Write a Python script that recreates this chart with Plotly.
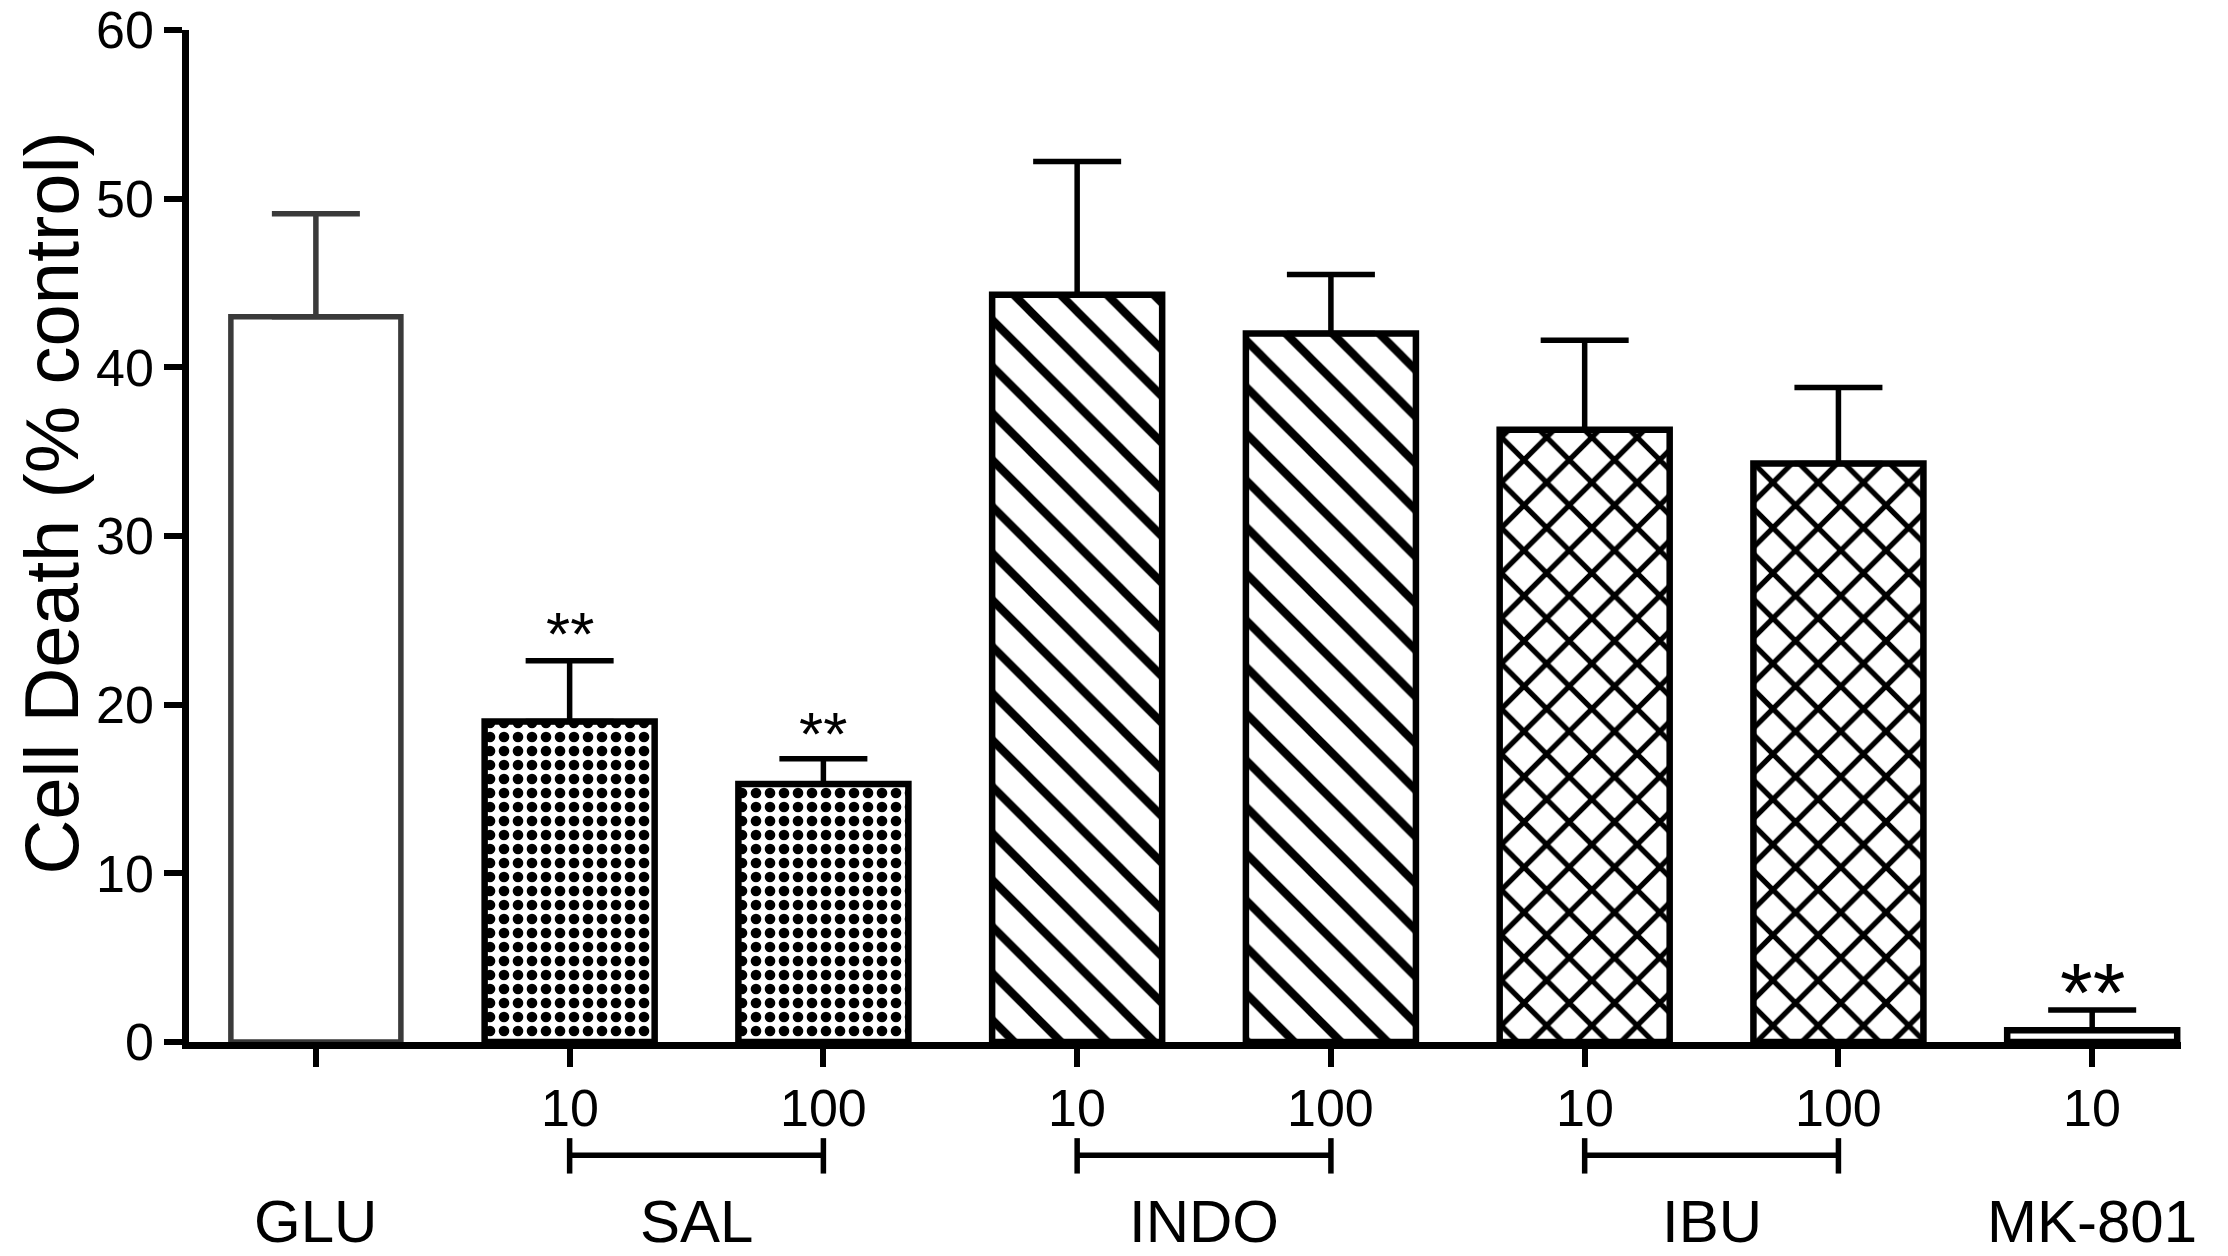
import plotly.graph_objects as go

# bar data
bars = ["GLU", "SAL 10", "SAL 100", "INDO 10", "INDO 100", "IBU 10", "IBU 100", "MK-801 10"]
cell_death = [43.0, 19.0, 15.3, 44.3, 42.0, 36.3, 34.3, 0.7]
sem = [6.1, 3.6, 1.5, 7.9, 3.5, 5.3, 4.5, 1.2]
doses = ["", "10", "100", "10", "100", "10", "100", "10"]
groups = ["GLU", "SAL", "INDO", "IBU", "MK-801"]
group_pos = [0, 1.5, 3.5, 5.5, 7]
brackets = [(1, 2), (3, 4), (5, 6)]
stars = [(1, 24.2, 62), (2, 18.3, 62), (7, 2.9, 84)]

# pattern per bar: GLU open, SAL checker, INDO hatched, IBU cross
shapes_ = ["", ".", ".", "\\", "\\", "x", "x", ""]
pat_size = [8, 14, 14, 33, 33, 32, 32, 8]
pat_sol = [0.3, 0.45, 0.45, 0.25, 0.25, 0.3, 0.3, 0.3]
edge = ["#3a3a3a", "black", "black", "black", "black", "black", "black", "black"]
edge_w = [5.5, 6.5, 6.5, 6.5, 6.5, 6.5, 6.5, 6.5]

FONT = "Liberation Sans, Arial, sans-serif"

fig = go.Figure()
for i in range(len(bars)):
  fig.add_trace(go.Bar(
    x=[i], y=[cell_death[i]], width=0.67, name=bars[i],
    marker=dict(color="white",
                line=dict(color=edge[i], width=edge_w[i]),
                pattern=dict(shape=shapes_[i], size=pat_size[i], solidity=pat_sol[i],
                             fgcolor="black", bgcolor="white", fillmode="replace")),
    error_y=dict(type="data", symmetric=False, array=[sem[i]], arrayminus=[0],
                 color=edge[i], thickness=5.5, width=44),
    showlegend=False))

# significance stars
for xi, yi, sz in stars:
  fig.add_annotation(x=xi, y=yi, text="**", showarrow=False,
                     font=dict(size=sz, color="black", family=FONT))

# dose labels
for i, d in enumerate(doses):
  if d:
    fig.add_annotation(x=i, y=-0.065, yref="paper", yanchor="middle", text=d, showarrow=False,
                       font=dict(size=52, color="black", family=FONT))

# brackets under dose pairs
for a, b in brackets:
  fig.add_shape(type="line", x0=a, x1=b, y0=-0.112, y1=-0.112, yref="paper",
                line=dict(color="black", width=5.5))
  for e in (a, b):
    fig.add_shape(type="line", x0=e, x1=e, y0=-0.095, y1=-0.13, yref="paper",
                  line=dict(color="black", width=5.5))

# group labels
for g, p in zip(groups, group_pos):
  fig.add_annotation(x=p, y=-0.177, yref="paper", yanchor="middle", text=g, showarrow=False,
                     font=dict(size=60, color="black", family=FONT))

# y title
fig.add_annotation(x=-0.0688, y=0.533, xref="paper", yref="paper", text="Cell Death (% control)",
                   textangle=-90, showarrow=False, xanchor="center", yanchor="middle",
                   font=dict(size=76, color="black", family=FONT))

# page body keeps an 8px margin, so the figure is 8px smaller each way
fig.update_layout(
  width=2220, height=1248,
  margin=dict(l=181, r=47, t=22, b=214),
  paper_bgcolor="white", plot_bgcolor="white",
  barmode="overlay",
  font=dict(family=FONT, color="black"),
)
fig.update_xaxes(range=[-0.5, 7.35], tickvals=list(range(len(bars))), ticktext=[""] * len(bars),
                 showline=True, linecolor="black", linewidth=6.5, ticks="outside",
                 ticklen=18, tickwidth=6, tickcolor="black", showgrid=False, zeroline=False,
                 automargin=False)
fig.update_yaxes(range=[0, 60], dtick=10, showline=True, linecolor="black", linewidth=6.5,
                 ticks="outside", ticklen=18, tickwidth=6, tickcolor="black",
                 tickfont=dict(size=52), ticklabeloverflow="allow", showgrid=False, zeroline=False,
                 automargin=False)

fig.write_html("out.html")
